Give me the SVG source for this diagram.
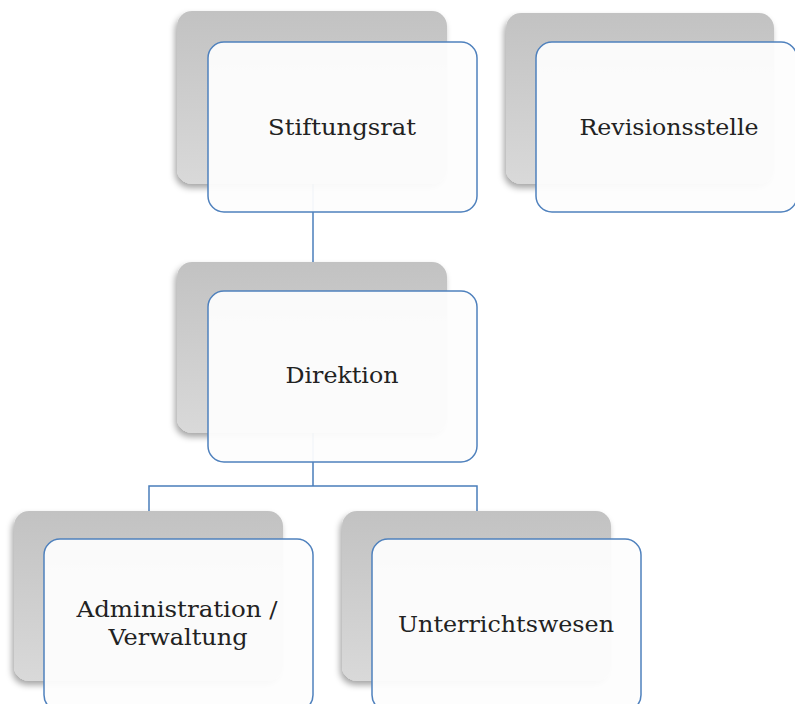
<svg xmlns="http://www.w3.org/2000/svg" width="795" height="704" viewBox="0 0 795 704">
<defs>
<linearGradient id="gr" x1="0" y1="0" x2="0" y2="1">
<stop offset="0" stop-color="#c2c2c2"/>
<stop offset="1" stop-color="#d9d9d9"/>
</linearGradient>
<filter id="sh" x="-10%" y="-10%" width="120%" height="125%">
<feDropShadow dx="-2" dy="4" stdDeviation="3" flood-color="#000" flood-opacity="0.35"/>
</filter>
<style>
.back{fill:url(#gr);filter:url(#sh);}
.front{fill:#fdfdfd;fill-opacity:0.95;stroke:#4f81bd;stroke-width:1.5;}
.conn{fill:none;stroke:#4a7ebb;stroke-width:1.5;}
text{font-family:"DejaVu Serif","Liberation Serif",serif;font-size:22px;fill:#222;text-anchor:middle;}
</style>
</defs>
<rect width="795" height="704" fill="#fff"/>
<g id="connectors">
<path class="conn" d="M313 184 V262"/>
<path class="conn" d="M313 433 V486 M149 511 V486 H477 V511"/>
</g>
<g id="stiftungsrat">
<rect class="back" x="177" y="11" width="270" height="173" rx="15"/>
<rect class="front" x="208" y="42" width="269" height="170" rx="16"/>
<text x="342" y="135" textLength="148" lengthAdjust="spacingAndGlyphs">Stiftungsrat</text>
</g>
<g id="revisionsstelle">
<rect class="back" x="506" y="13" width="268" height="171" rx="15"/>
<rect class="front" x="536" y="42" width="261" height="170" rx="16"/>
<text x="669" y="135" textLength="179" lengthAdjust="spacingAndGlyphs">Revisionsstelle</text>
</g>
<g id="direktion">
<rect class="back" x="177" y="262" width="270" height="171" rx="15"/>
<rect class="front" x="208" y="291" width="269" height="171" rx="16"/>
<text x="342" y="383" textLength="113" lengthAdjust="spacingAndGlyphs">Direktion</text>
</g>
<g id="administration">
<rect class="back" x="14" y="511" width="269" height="170" rx="15"/>
<rect class="front" x="44" y="539" width="269" height="172" rx="16"/>
<text x="177" y="617" textLength="201" lengthAdjust="spacingAndGlyphs">Administration /</text>
<text x="178" y="645" textLength="139" lengthAdjust="spacingAndGlyphs">Verwaltung</text>
</g>
<g id="unterrichtswesen">
<rect class="back" x="342" y="511" width="269" height="170" rx="15"/>
<rect class="front" x="372" y="539" width="269" height="172" rx="16"/>
<text x="506" y="632" textLength="216" lengthAdjust="spacingAndGlyphs">Unterrichtswesen</text>
</g>
</svg>
